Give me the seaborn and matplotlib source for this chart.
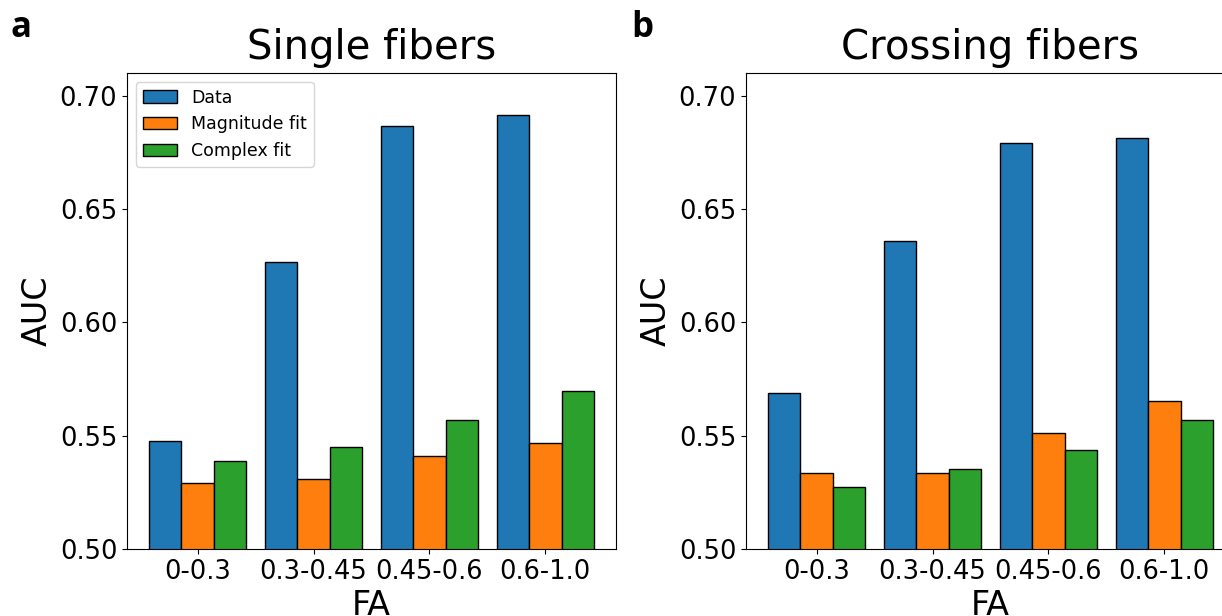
import matplotlib
matplotlib.use("Agg")
import matplotlib.pyplot as plt
import seaborn as sns
import pandas as pd
from matplotlib.ticker import FormatStrFormatter

categories = ["0-0.3", "0.3-0.45", "0.45-0.6", "0.6-1.0"]
series = ["Data", "Magnitude fit", "Complex fit"]
single_data = [0.5475, 0.6264, 0.6864, 0.6913]
single_mag = [0.5290, 0.5310, 0.5412, 0.5466]
single_cplx = [0.5388, 0.5449, 0.5567, 0.5696]
cross_data = [0.5687, 0.6358, 0.6793, 0.6814]
cross_mag = [0.5334, 0.5334, 0.5510, 0.5654]
cross_cplx = [0.5273, 0.5355, 0.5438, 0.5569]
yticks = [0.50, 0.55, 0.60, 0.65, 0.70]
colors = ["#1f77b4", "#ff7f0e", "#2ca02c"]


def to_df(d, m, c):
    rows = []
    for s, vals in zip(series, [d, m, c]):
        for cat, v in zip(categories, vals):
            rows.append({"FA": cat, "series": s, "AUC": v})
    return pd.DataFrame(rows)


df_single = to_df(single_data, single_mag, single_cplx)
df_cross = to_df(cross_data, cross_mag, cross_cplx)

fig = plt.figure(figsize=(12.22, 6.16), dpi=100)
ax1 = fig.add_axes([127 / 1222, 67 / 616, 489 / 1222, 476 / 616])
ax2 = fig.add_axes([746 / 1222, 67 / 616, 489 / 1222, 476 / 616])

for ax, df, title, show_leg in [(ax1, df_single, "Single fibers", True),
                                (ax2, df_cross, "Crossing fibers", False)]:
    sns.barplot(data=df, x="FA", y="AUC", hue="series", hue_order=series,
                order=categories, palette=colors, width=0.84, gap=0,
                edgecolor="black", linewidth=1, errorbar=None, ax=ax,
                legend=show_leg, saturation=1)
    ax.set_ylim(0.5, 0.71)
    ax.set_xlim(-0.61, 3.61)
    ax.set_yticks(yticks)
    ax.yaxis.set_major_formatter(FormatStrFormatter("%.2f"))
    ax.tick_params(axis="both", labelsize=18.5)
    ax.set_xlabel("FA", fontsize=24, labelpad=3)
    ax.set_ylabel("AUC", fontsize=24)
    ax.set_title(title, fontsize=29, pad=10)
    if show_leg:
        ax.legend(loc="upper left", fontsize=12.5, title=None)

fig.text(11 / 1222, 1 - 37 / 616, "a", fontsize=25, fontweight="bold",
         family="Open Sans", va="baseline", ha="left")
fig.text(631 / 1222, 1 - 37 / 616, "b", fontsize=25, fontweight="bold",
         family="Open Sans", va="baseline", ha="left")

fig.savefig("out.png", dpi=100)
